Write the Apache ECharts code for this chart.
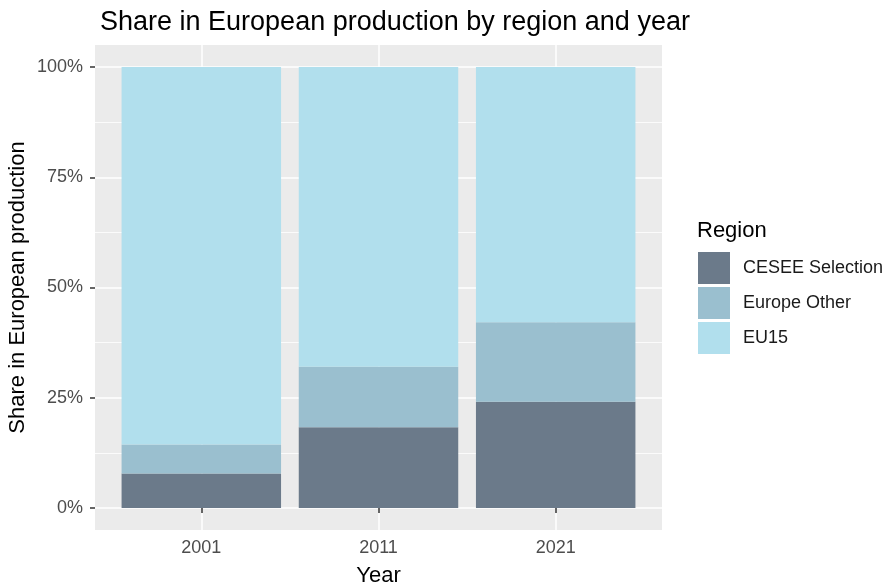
<!DOCTYPE html>
<html>
<head>
<meta charset="utf-8">
<script src="https://cdn.jsdelivr.net/npm/echarts@6/dist/echarts.min.js"></script>
<style>
	html, body { margin: 0; padding: 0; background: #fff; }
	#chart { width: 888px; height: 587px; }
</style>
</head>
<body>
<div id="chart"></div>
<script>
const years = ['2001', '2011', '2021']
const regions = ['CESEE Selection', 'Europe Other', 'EU15']
const cesee = [0.078, 0.183, 0.241]
const europeOther = [0.066, 0.137, 0.180]
const eu15 = [0.856, 0.680, 0.579]
const yTicks = [0, 0.25, 0.5, 0.75, 1]
const yMinor = [0.125, 0.375, 0.625, 0.875]

const colors = ['#6b7a8a', '#9abfcf', '#b1dfed']
const seriesValues = [cesee, europeOther, eu15]

const chart = echarts.init(document.getElementById('chart'))

const font = 'Liberation Sans, Arial, sans-serif'

// panel in px, ggplot style: discrete x expanded by 0.6 on each side
const panel = { left: 95, top: 45, width: 567, height: 485 }
const unit = panel.width / 3.2

const option = {
	animation: false,
	textStyle: { fontFamily: font },
	title: {
		text: 'Share in European production by region and year',
		left: 95,
		top: 4,
		textStyle: { fontSize: 27, fontWeight: 'normal', color: '#000', fontFamily: font },
	},
	grid: [
		{
			...panel,
			show: true,
			backgroundColor: '#ebebeb',
			borderWidth: 0,
			outerBoundsMode: 'none',
		},
		{
			left: panel.left + 0.1 * unit,
			top: panel.top,
			width: 3 * unit,
			height: panel.height,
			outerBoundsMode: 'none',
		},
	],
	legend: {
		orient: 'vertical',
		left: 693,
		top: 247,
		itemWidth: 32,
		itemHeight: 32,
		itemGap: 3,
		icon: 'rect',
		data: regions,
		textStyle: { fontSize: 18, color: '#1a1a1a', padding: [0, 0, 0, 8] },
		selectedMode: false,
	},
	graphic: [
		{
			type: 'text',
			left: 697,
			top: 220,
			style: { text: 'Region', fontSize: 22, fill: '#000', fontFamily: font },
		},
	],
	xAxis: [
		{
			gridIndex: 0,
			type: 'value',
			min: 0.4,
			max: 3.6,
			name: 'Year',
			nameLocation: 'middle',
			nameGap: 35,
			nameTextStyle: { fontSize: 22, color: '#000' },
			axisLine: { show: false },
			axisTick: { show: true, customValues: [1, 2, 3], length: 5, lineStyle: { color: '#333', width: 1.5 } },
			axisLabel: {
				customValues: [1, 2, 3],
				formatter: v => years[Math.round(v) - 1],
				fontSize: 18,
				color: '#4d4d4d',
				margin: 9,
			},
			splitLine: { show: true, lineStyle: { color: '#fff', width: 1.5 } },
		},
		{
			gridIndex: 1,
			type: 'category',
			data: years,
			show: false,
		},
	],
	yAxis: [
		{
			gridIndex: 0,
			type: 'value',
			min: -0.05,
			max: 1.05,
			name: 'Share in European production',
			nameLocation: 'middle',
			nameGap: 66,
			nameMoveOverlap: false,
			nameTextStyle: { fontSize: 22, color: '#000' },
			axisLine: { show: false },
			axisTick: { show: true, customValues: yTicks, length: 5, lineStyle: { color: '#333', width: 1.5 } },
			axisLabel: {
				customValues: yTicks,
				formatter: v => Math.round(v * 100) + '%',
				fontSize: 18,
				color: '#4d4d4d',
				margin: 12,
			},
			splitLine: { show: true, lineStyle: { color: '#fff', width: 1.5 } },
		},
		{
			gridIndex: 0,
			type: 'value',
			min: -0.05,
			max: 1.05,
			axisLine: { show: false },
			axisTick: { show: false, customValues: yMinor },
			axisLabel: { show: false, customValues: yMinor },
			splitLine: { show: true, lineStyle: { color: '#fff', width: 0.8 } },
		},
		{
			gridIndex: 1,
			type: 'value',
			min: -0.05,
			max: 1.05,
			show: false,
			splitLine: { show: false },
		},
	],
	series: regions.map((name, i) => ({
		name: name,
		type: 'bar',
		stack: 'total',
		xAxisIndex: 1,
		yAxisIndex: 2,
		barCategoryGap: '10%',
		itemStyle: { color: colors[i] },
		data: seriesValues[i],
	})),
}

chart.setOption(option)
</script>
</body>
</html>
